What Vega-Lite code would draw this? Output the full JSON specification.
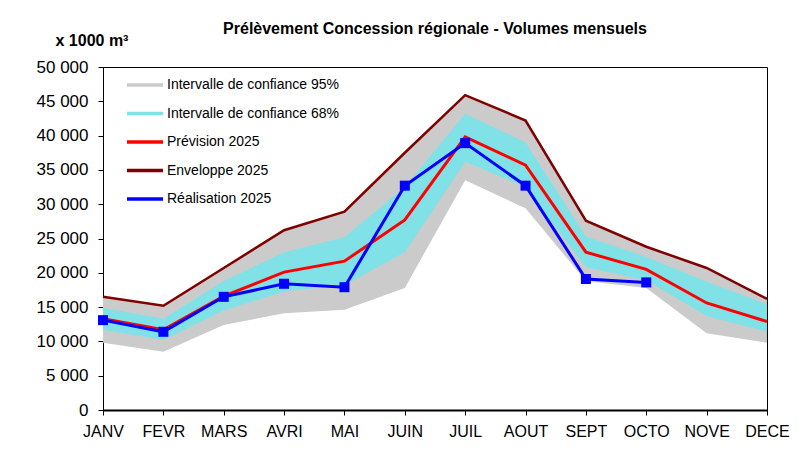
{
  "$schema": "https://vega.github.io/schema/vega-lite/v6.json",
  "width": 664,
  "height": 343,
  "autosize": "none",
  "padding": {"left": 103, "top": 67, "right": 32, "bottom": 46},
  "background": "white",
  "title": {
    "text": "Prélèvement Concession régionale - Volumes mensuels",
    "fontSize": 16,
    "fontWeight": "bold",
    "font": "Liberation Sans",
    "color": "black",
    "anchor": "middle",
    "frame": "group",
    "offset": -5
  },
  "config": {
    "font": "Liberation Sans",
    "view": {"stroke": "black", "strokeWidth": 1},
    "axis": {"grid": false, "domainColor": "black", "tickColor": "black", "labelColor": "black", "titleColor": "black"},
    "axisY": {
      "labelFontSize": 17,
      "labelPadding": 10,
      "tickSize": 5,
      "labelOverlap": false,
      "titleAngle": 0,
      "titleAlign": "left",
      "titleBaseline": "alphabetic",
      "titleFontSize": 16,
      "titleFontWeight": "bold",
      "titleX": -48,
      "titleY": -22
    },
    "legend": {
      "orient": "none",
      "legendX": 33,
      "legendY": 9,
      "padding": 0,
      "labelFontSize": 14,
      "labelColor": "black",
      "labelOffset": 13,
      "labelLimit": 400,
      "symbolSize": 324,
      "symbolType": "M-2,-0.2L2,-0.2L2,0.2L-2,0.2Z",
      "symbolStrokeWidth": 0,
      "rowPadding": 12.5
    }
  },
  "data": {
    "values": [
      {"month": "JANV", "lo95": 9800, "hi95": 16500, "lo68": 11700, "hi68": 14900, "prev": 13300, "env": 16500, "real": 13100},
      {"month": "FEVR", "lo95": 8500, "hi95": 15200, "lo68": 10200, "hi68": 13300, "prev": 11700, "env": 15200, "real": 11400},
      {"month": "MARS", "lo95": 12400, "hi95": 20700, "lo68": 14500, "hi68": 18800, "prev": 16600, "env": 20700, "real": 16500},
      {"month": "AVRI", "lo95": 14100, "hi95": 26200, "lo68": 17300, "hi68": 23000, "prev": 20100, "env": 26200, "real": 18400},
      {"month": "MAI", "lo95": 14600, "hi95": 28900, "lo68": 18200, "hi68": 25200, "prev": 21700, "env": 28900, "real": 17900},
      {"month": "JUIN", "lo95": 17800, "hi95": 37500, "lo68": 23000, "hi68": 32500, "prev": 27700, "env": 37500, "real": 32700},
      {"month": "JUIL", "lo95": 33500, "hi95": 45900, "lo68": 36200, "hi68": 43200, "prev": 39800, "env": 45900, "real": 38900},
      {"month": "AOUT", "lo95": 29400, "hi95": 42200, "lo68": 32500, "hi68": 39000, "prev": 35700, "env": 42200, "real": 32700},
      {"month": "SEPT", "lo95": 18800, "hi95": 27600, "lo68": 20800, "hi68": 25300, "prev": 23000, "env": 27600, "real": 19100},
      {"month": "OCTO", "lo95": 17800, "hi95": 23800, "lo68": 18900, "hi68": 22300, "prev": 20500, "env": 23800, "real": 18600},
      {"month": "NOVE", "lo95": 11200, "hi95": 20700, "lo68": 13700, "hi68": 18700, "prev": 15600, "env": 20700, "real": null},
      {"month": "DECE", "lo95": 9800, "hi95": 16200, "lo68": 11400, "hi68": 15400, "prev": 12900, "env": 16200, "real": null}
    ]
  },
  "encoding": {
    "x": {
      "field": "month",
      "type": "ordinal",
      "sort": null,
      "scale": {"type": "point", "padding": 0},
      "axis": {"title": null, "labelAngle": 0, "labelFontSize": 16, "labelPadding": 8, "tickSize": 5, "domainWidth": 2}
    }
  },
  "layer": [
    {
      "mark": {"type": "area", "opacity": 1},
      "encoding": {
        "y": {
          "field": "lo95",
          "type": "quantitative",
          "scale": {"domain": [0, 50000], "nice": false},
          "axis": {"values": [0, 5000, 10000, 15000, 20000, 25000, 30000, 35000, 40000, 45000, 50000], "labelExpr": "replace(format(datum.value, ','), ',', ' ')", "title": "x 1000 m³"}
        },
        "y2": {"field": "hi95"},
        "color": {
          "datum": "Intervalle de confiance 95%",
          "type": "nominal",
          "scale": {
            "domain": ["Intervalle de confiance 95%", "Intervalle de confiance 68%", "Prévision 2025", "Enveloppe 2025", "Réalisation 2025"],
            "range": ["#cbcbcb", "#80e2e6", "#ff0000", "#800000", "#0000ff"]
          },
          "legend": {"title": null}
        }
      }
    },
    {
      "mark": {"type": "area", "opacity": 1},
      "encoding": {
        "y": {"field": "lo68", "type": "quantitative", "axis": {"values": [0, 5000, 10000, 15000, 20000, 25000, 30000, 35000, 40000, 45000, 50000], "labelExpr": "replace(format(datum.value, ','), ',', ' ')", "title": "x 1000 m³"}},
        "y2": {"field": "hi68"},
        "color": {"datum": "Intervalle de confiance 68%", "type": "nominal"}
      }
    },
    {
      "mark": {"type": "line", "strokeWidth": 2.5},
      "encoding": {
        "y": {"field": "env", "type": "quantitative", "axis": {"values": [0, 5000, 10000, 15000, 20000, 25000, 30000, 35000, 40000, 45000, 50000], "labelExpr": "replace(format(datum.value, ','), ',', ' ')", "title": "x 1000 m³"}},
        "color": {"datum": "Enveloppe 2025", "type": "nominal"}
      }
    },
    {
      "mark": {"type": "line", "strokeWidth": 3},
      "encoding": {
        "y": {"field": "prev", "type": "quantitative", "axis": {"values": [0, 5000, 10000, 15000, 20000, 25000, 30000, 35000, 40000, 45000, 50000], "labelExpr": "replace(format(datum.value, ','), ',', ' ')", "title": "x 1000 m³"}},
        "color": {"datum": "Prévision 2025", "type": "nominal"}
      }
    },
    {
      "mark": {"type": "line", "strokeWidth": 3, "point": {"shape": "square", "size": 100, "filled": true, "opacity": 1}},
      "encoding": {
        "y": {"field": "real", "type": "quantitative", "axis": {"values": [0, 5000, 10000, 15000, 20000, 25000, 30000, 35000, 40000, 45000, 50000], "labelExpr": "replace(format(datum.value, ','), ',', ' ')", "title": "x 1000 m³"}},
        "color": {"datum": "Réalisation 2025", "type": "nominal"}
      }
    }
  ]
}
